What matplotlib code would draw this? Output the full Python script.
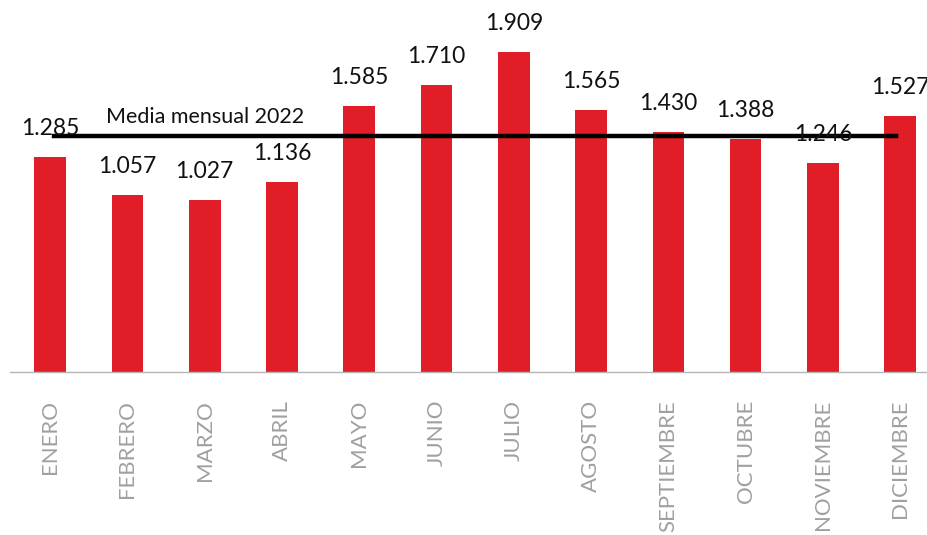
import matplotlib
matplotlib.use("Agg")
import matplotlib.pyplot as plt
import numpy as np

months = ["ENERO", "FEBRERO", "MARZO", "ABRIL", "MAYO", "JUNIO", "JULIO",
          "AGOSTO", "SEPTIEMBRE", "OCTUBRE", "NOVIEMBRE", "DICIEMBRE"]
values = [1285, 1057, 1027, 1136, 1585, 1710, 1909, 1565, 1430, 1388, 1246, 1527]
value_labels = ["1.285", "1.057", "1.027", "1.136", "1.585", "1.710", "1.909",
                "1.565", "1.430", "1.388", "1.246", "1.527"]
mean_label = "Media mensual 2022"

plt.rcParams['font.family'] = ['Lato', 'DejaVu Sans']

fig = plt.figure(figsize=(9.28, 5.35), dpi=100)
ax = fig.add_axes([10/928, 163/535, 918/928, 372/535])

x = np.arange(len(months))
ax.bar(x, values, width=0.41, color="#E11E27", zorder=2)

mean_val = np.mean(values)
ax.plot([0.05, 10.95], [mean_val, mean_val], color="black", lw=3.2, zorder=3)
ax.text(2.0, mean_val + 55, mean_label, ha="center", va="bottom", fontsize=15.5,
        color="#111111", zorder=4)

for xi, v, lab in zip(x, values, value_labels):
    ax.annotate(lab, (xi, v), xytext=(0, 13), textcoords="offset points",
                ha="center", va="bottom", fontsize=16.5, color="#111111", zorder=4)

ax.set_xlim(-0.52, 11.36)
ax.set_ylim(0, 2219)
ax.set_xticks(x)
ax.set_xticklabels(months, rotation=90, fontsize=16, color="#a0a0a0",
                   fontweight="normal", va="top")
ax.tick_params(axis="x", length=0, pad=20)
ax.set_yticks([])
for s in ["top", "right", "left"]:
    ax.spines[s].set_visible(False)
ax.spines["bottom"].set_color("#b5b5b5")
ax.spines["bottom"].set_linewidth(1)

fig.savefig("out.png", dpi=100)
